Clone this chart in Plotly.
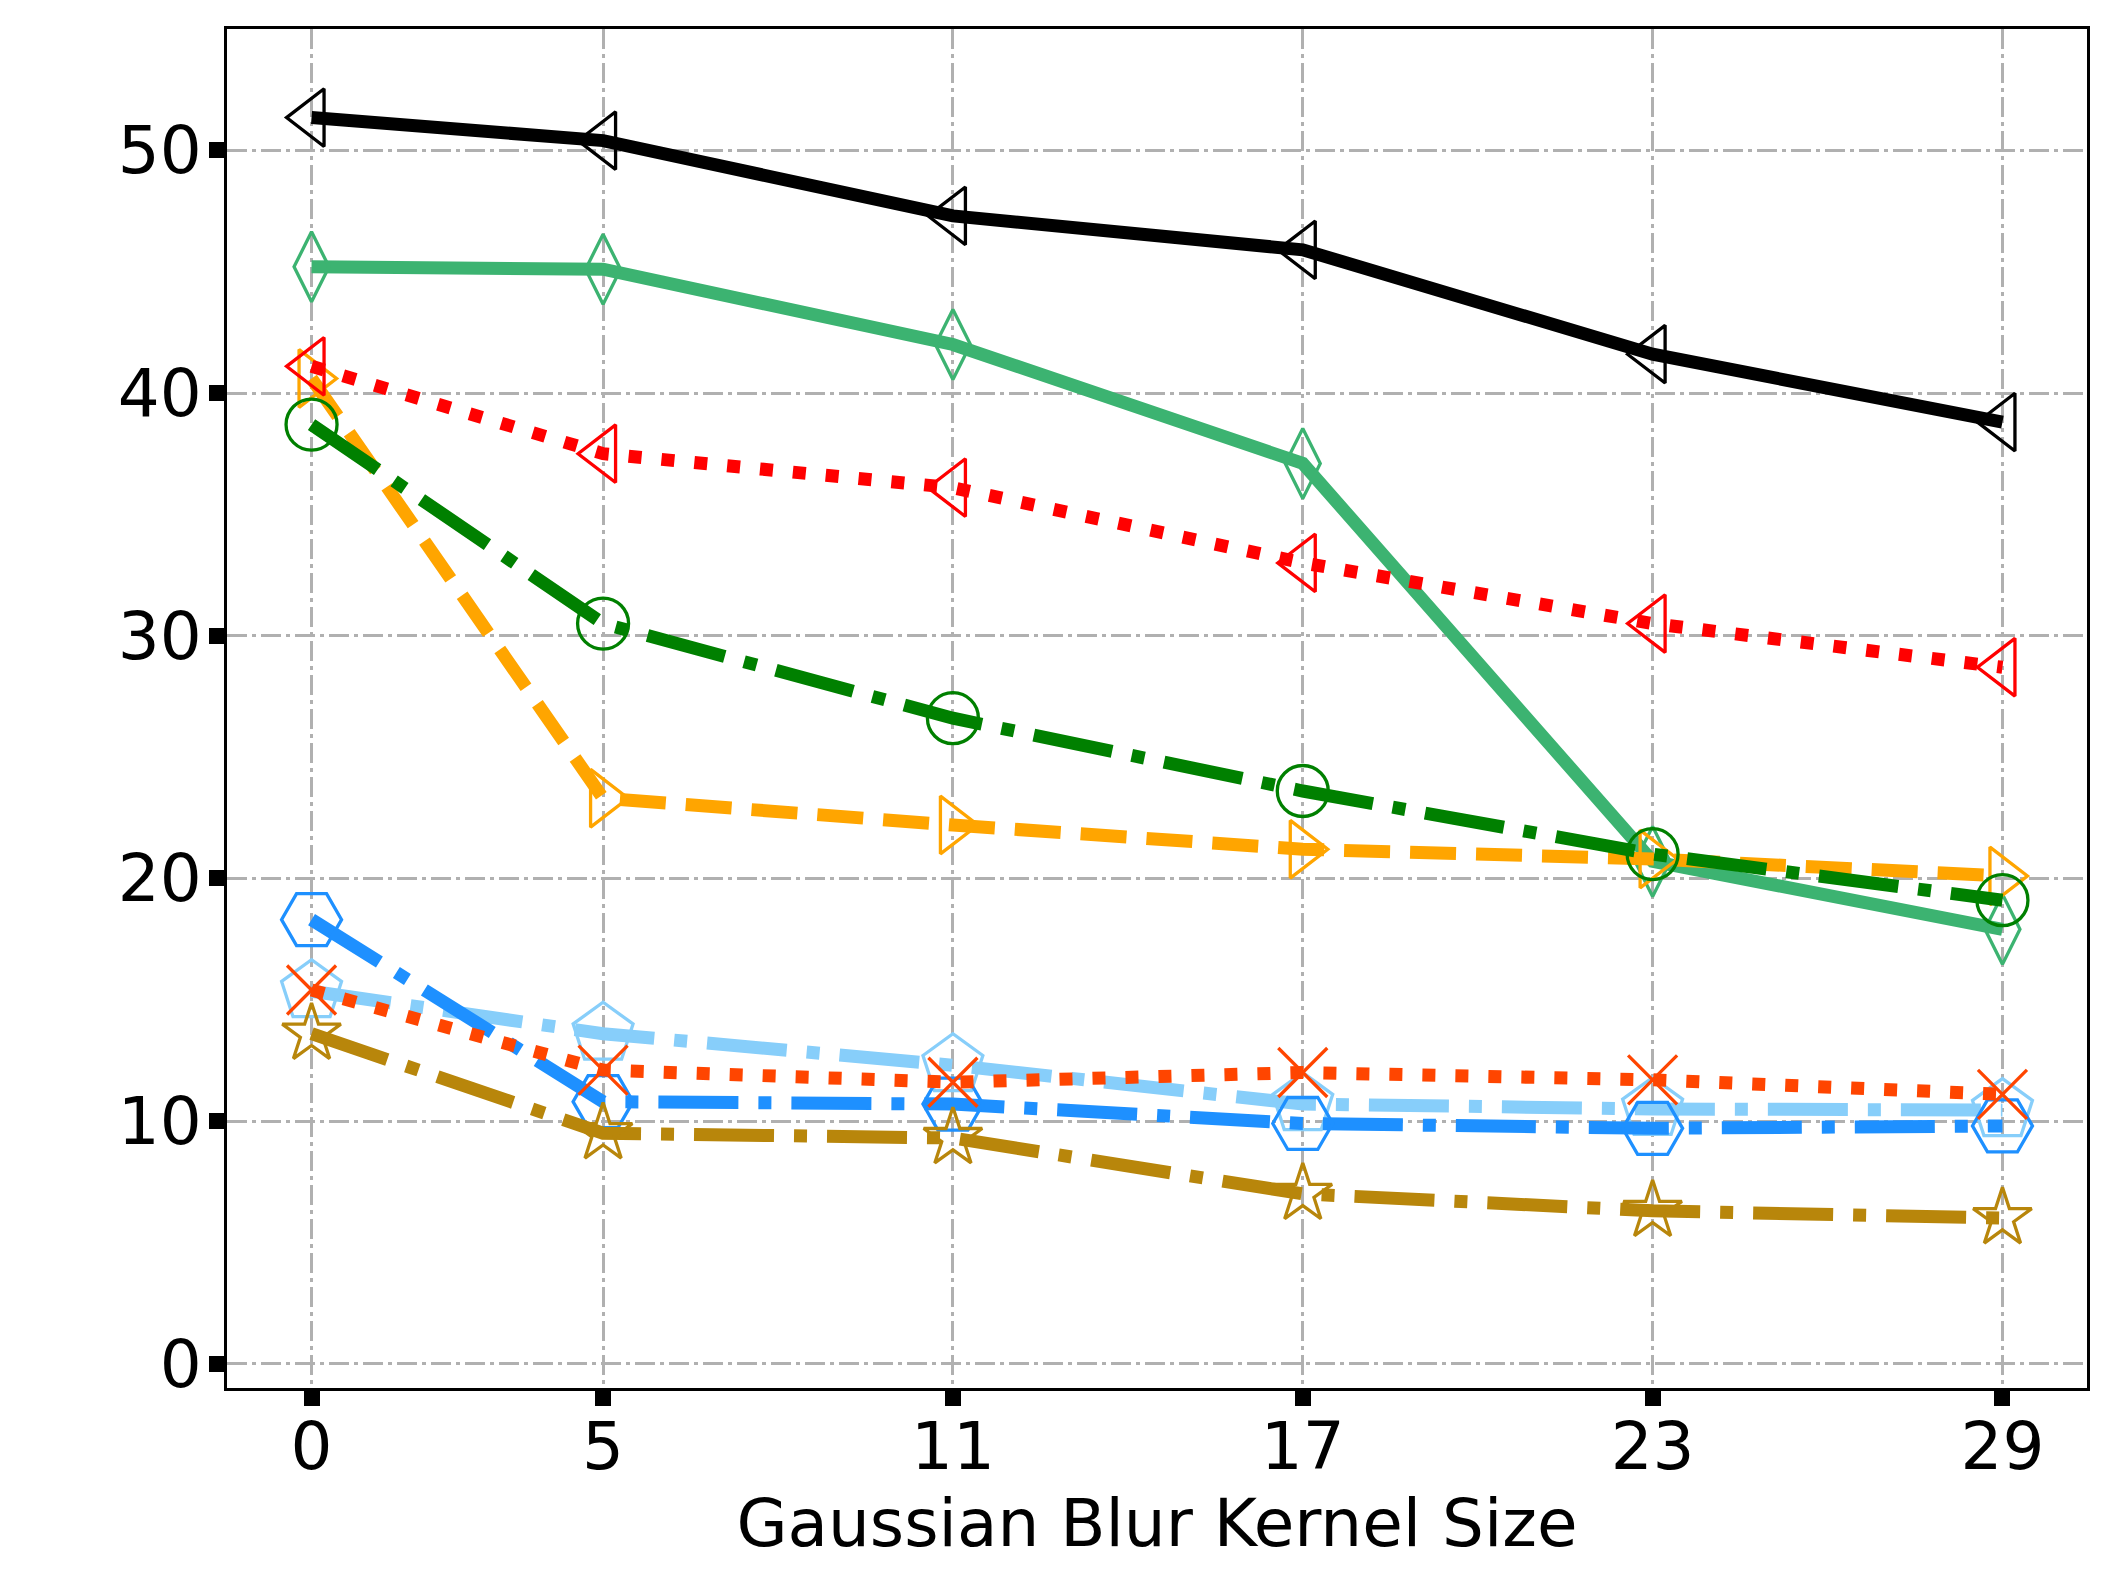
import plotly.graph_objects as go

# kernel sizes on the x axis
kernel_sizes = [0, 5, 11, 17, 23, 29]

# one list per method
black_vals = [51.35, 50.4, 47.3, 45.9, 41.6, 38.8]
seagreen_vals = [45.2, 45.1, 42.0, 37.1, 20.7, 17.9]
orange_vals = [40.6, 23.3, 22.2, 21.2, 20.8, 20.1]
red_vals = [41.1, 37.5, 36.1, 33.0, 30.5, 28.7]
green_vals = [38.7, 30.5, 26.6, 23.6, 21.0, 19.1]
skyblue_vals = [15.35, 13.6, 12.3, 10.7, 10.5, 10.45]
dodger_vals = [18.3, 10.8, 10.7, 9.9, 9.7, 9.8]
orangered_vals = [15.4, 12.1, 11.6, 12.0, 11.7, 11.1]
gold_vals = [13.6, 9.5, 9.3, 7.0, 6.3, 6.0]

y_ticks = [0, 10, 20, 30, 40, 50]

LW = 13
MEW = 3.3
DOT = "13px,20px"
DASH = "46px,20px"
DASHDOT = "80px,20px,13px,20px"

series = [
    # values, color, dash, symbol, marker size
    (black_vals, "black", "solid", "triangle-left-open", 50),
    (seagreen_vals, "#3cb371", "solid", "diamond-tall-open", 50),
    (orange_vals, "orange", DASH, "triangle-right-open", 50),
    (red_vals, "red", DOT, "triangle-left-open", 50),
    (green_vals, "green", DASHDOT, "circle-open", 51),
    (skyblue_vals, "#87cefa", DASHDOT, "pentagon-open", 63),
    (dodger_vals, "#1e90ff", DASHDOT, "hexagon2-open", 60),
    (orangered_vals, "#ff4500", DOT, "x-thin-open", 49),
    (gold_vals, "#b8860b", DASHDOT, "star-open", 44),
]

fig = go.Figure()

for vals, color, dash, symbol, msize in series:
    fig.add_trace(go.Scatter(
        x=kernel_sizes,
        y=vals,
        mode="lines+markers",
        line=dict(color=color, width=LW, dash=dash),
        marker=dict(symbol=symbol, size=msize, color=color,
                    line=dict(color=color, width=MEW)),
        showlegend=False,
    ))

axis_common = dict(
    showline=True,
    linecolor="black",
    linewidth=3.3,
    mirror=True,
    ticks="outside",
    ticklen=15,
    tickwidth=16,
    tickcolor="black",
    showgrid=True,
    gridcolor="#b0b0b0",
    gridwidth=3.3,
    griddash="20px,5px,4px,5px",
    zeroline=False,
    automargin=False,
    tickfont=dict(family="DejaVu Sans", size=66, color="black"),
)

# the page body has an 8px margin, so the figure is a bit smaller
fig.update_layout(
    width=2100,
    height=1580,
    margin=dict(l=219, r=21, t=21, b=200),
    plot_bgcolor="white",
    paper_bgcolor="white",
    font=dict(family="DejaVu Sans", color="black"),
    xaxis=dict(
        range=[-1.45, 30.45],
        tickmode="array",
        tickvals=kernel_sizes,
        ticktext=[str(k) for k in kernel_sizes],
        ticklabelstandoff=-16,
        title=dict(text="Gaussian Blur Kernel Size",
                   font=dict(family="DejaVu Sans", size=66, color="black"),
                   standoff=4),
        **axis_common
    ),
    yaxis=dict(
        range=[-1, 55],
        tickmode="array",
        tickvals=y_ticks,
        ticktext=[str(v) for v in y_ticks],
        ticklabelstandoff=-6,
        **axis_common
    ),
)

fig.write_html("out.html")
